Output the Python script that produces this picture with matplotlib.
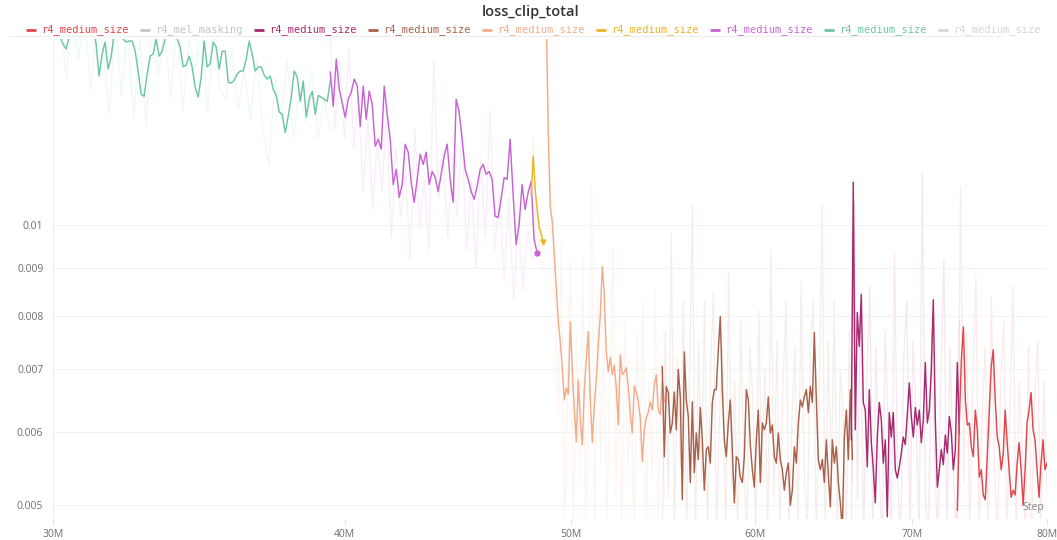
import numpy as np
import matplotlib
matplotlib.use("Agg")
import matplotlib.pyplot as plt
from matplotlib.lines import Line2D
from matplotlib.ticker import NullLocator

# ---------------- data ----------------
title = "loss_clip_total"
legend_labels = ["r4_medium_size", "r4_mel_masking", "r4_medium_size", "r4_medium_size",
                 "r4_medium_size", "r4_medium_size", "r4_medium_size", "r4_medium_size",
                 "r4_medium_size"]
legend_colors = ["#e0474c", "#c4c4c4", "#a82a6e", "#a9614a", "#f3ac8a", "#f0b323",
                 "#c864d2", "#6dc5a8", "#d6d6d6"]

x_ticks = [30e6, 40e6, 50e6, 60e6, 70e6, 80e6]
x_tick_labels = ["30M", "40M", "50M", "60M", "70M", "80M"]
y_ticks = [0.005, 0.006, 0.007, 0.008, 0.009, 0.01]
y_tick_labels = ["0.005", "0.006", "0.007", "0.008", "0.009", "0.01"]

# step span (first, last) of each run
teal_span = (30.21e6, 39.44e6)
violet_span = (39.44e6, 48.37e6)
yellow_span = (48.09e6, 48.66e6)
peach_span = (48.81e6, 54.84e6)
brown_span = (54.73e6, 66.02e6)
magenta_span = (65.95e6, 73.37e6)
red_span = (73.23e6, 80.0e6)

teal_smooth = [0.01594, 0.01567, 0.01548, 0.01594, 0.01634, 0.01659, 0.01667, 0.01659, 0.01646, 0.01659,
               0.01667, 0.01646, 0.01567, 0.01448, 0.01529, 0.01575, 0.01473, 0.01518, 0.01607, 0.01646,
               0.01627, 0.01587, 0.01575, 0.01579, 0.01579, 0.01540, 0.01466, 0.01384, 0.01377, 0.01455,
               0.01521, 0.01529, 0.01587, 0.01521, 0.01540, 0.01587, 0.01627, 0.01646, 0.01634, 0.01587,
               0.01556, 0.01481, 0.01488, 0.01521, 0.01481, 0.01408, 0.01374, 0.01444, 0.01579, 0.01481,
               0.01492, 0.01575, 0.01556, 0.01473, 0.01540, 0.01540, 0.01426, 0.01423, 0.01433, 0.01455,
               0.01466, 0.01466, 0.01510, 0.01579, 0.01529, 0.01466, 0.01481, 0.01481, 0.01451, 0.01437,
               0.01448, 0.01401, 0.01380, 0.01324, 0.01317, 0.01259, 0.01311, 0.01374, 0.01466, 0.01444,
               0.01360, 0.01430, 0.01308, 0.01367, 0.01394, 0.01317, 0.01380, 0.01374, 0.01367, 0.01360,
               0.01430]
teal_raw = [0.0167, 0.0144, 0.0171, 0.0151, 0.0167, 0.0140, 0.0169, 0.0155, 0.0132, 0.0167,
            0.0138, 0.0163, 0.0130, 0.0159, 0.0128, 0.0167, 0.0144, 0.0163, 0.0137, 0.0167,
            0.0133, 0.0159, 0.0147, 0.0167, 0.0132, 0.0159, 0.0140, 0.0137, 0.0155, 0.0133,
            0.0147, 0.0130, 0.0151, 0.0127, 0.0116, 0.0144, 0.0130, 0.0151, 0.0124, 0.0140,
            0.0129, 0.0147, 0.0124, 0.0137, 0.0127]

violet_smooth = [0.01462, 0.01344, 0.01510, 0.01401, 0.01354, 0.01307, 0.01367, 0.01391, 0.01437, 0.01412,
                 0.01278, 0.01412, 0.01301, 0.01395, 0.01350, 0.01217, 0.01238, 0.01208, 0.01412, 0.01317,
                 0.01238, 0.01107, 0.01149, 0.01072, 0.01107, 0.01223, 0.01199, 0.01113, 0.01059, 0.01121,
                 0.01193, 0.01163, 0.01199, 0.01107, 0.01143, 0.01126, 0.01088, 0.01135, 0.01187, 0.01223,
                 0.01121, 0.01059, 0.01367, 0.01324, 0.01238, 0.01149, 0.01121, 0.01088, 0.01067, 0.01102,
                 0.01149, 0.01163, 0.01135, 0.01143, 0.01121, 0.01023, 0.01020, 0.01067, 0.01126, 0.01121,
                 0.01238, 0.01080, 0.00954, 0.01002, 0.01107, 0.01040, 0.01085, 0.01115, 0.00966, 0.00935]
violet_raw = [0.0159, 0.0127, 0.0151, 0.0124, 0.0155, 0.0121, 0.0137, 0.0109, 0.0130, 0.0104,
              0.0124, 0.0109, 0.0133, 0.0097, 0.0121, 0.0102, 0.0115, 0.0092, 0.0127, 0.0099,
              0.0112, 0.0094, 0.0151, 0.0107, 0.0121, 0.0097, 0.0118, 0.0102, 0.0127, 0.0094,
              0.0112, 0.0090, 0.0118, 0.0097, 0.0133, 0.0094, 0.0109, 0.0087, 0.0107, 0.0083,
              0.0102, 0.0085, 0.0099, 0.0092, 0.0094]

yellow_smooth = [0.01080, 0.01187, 0.01093, 0.01040, 0.00995, 0.00980, 0.00959]
yellow_raw = [0.0108, 0.0125, 0.0100, 0.0104, 0.0093, 0.0099, 0.0090]

peach_smooth = [0.01688, 0.01253, 0.01046, 0.01010, 0.00931, 0.00857, 0.00788, 0.00750, 0.00703, 0.00649,
                0.00669, 0.00658, 0.00788, 0.00700, 0.00633, 0.00585, 0.00682, 0.00618, 0.00581, 0.00666,
                0.00717, 0.00769, 0.00649, 0.00584, 0.00641, 0.00682, 0.00744, 0.00802, 0.00903, 0.00843,
                0.00731, 0.00696, 0.00721, 0.00691, 0.00708, 0.00669, 0.00610, 0.00726, 0.00691, 0.00696,
                0.00703, 0.00669, 0.00626, 0.00598, 0.00672, 0.00662, 0.00646, 0.00621, 0.00557, 0.00603,
                0.00621, 0.00630, 0.00646, 0.00633, 0.00674, 0.00691, 0.00633, 0.00626, 0.00679, 0.00646]
peach_raw = [0.0159, 0.0121, 0.0094, 0.0083, 0.0062, 0.0096, 0.0046, 0.0068, 0.0092, 0.0046,
             0.0077, 0.0053, 0.0093, 0.0046, 0.0065, 0.0110, 0.0046, 0.0085, 0.0055, 0.0081,
             0.0046, 0.0068, 0.0095, 0.0051, 0.0074, 0.0046, 0.0079, 0.0055, 0.0067, 0.0046,
             0.0077, 0.0056, 0.0083, 0.0046, 0.0068, 0.0053, 0.0085, 0.0046, 0.0072, 0.0051]

brown_smooth = [0.00705, 0.00564, 0.00671, 0.00661, 0.00598, 0.00613, 0.00662, 0.00603, 0.00700, 0.00654,
                0.00507, 0.00731, 0.00649, 0.00623, 0.00529, 0.00646, 0.00542, 0.00598, 0.00560, 0.00637,
                0.00588, 0.00519, 0.00574, 0.00578, 0.00555, 0.00645, 0.00666, 0.00666, 0.00735, 0.00798,
                0.00666, 0.00588, 0.00564, 0.00613, 0.00649, 0.00574, 0.00503, 0.00564, 0.00560, 0.00536,
                0.00529, 0.00564, 0.00666, 0.00649, 0.00581, 0.00546, 0.00523, 0.00588, 0.00633, 0.00529,
                0.00613, 0.00603, 0.00613, 0.00654, 0.00598, 0.00610, 0.00564, 0.00555, 0.00598, 0.00560,
                0.00546, 0.00519, 0.00542, 0.00555, 0.00500, 0.00519, 0.00578, 0.00555, 0.00613, 0.00649,
                0.00638, 0.00654, 0.00666, 0.00629, 0.00671, 0.00645, 0.00767, 0.00649, 0.00560, 0.00546,
                0.00560, 0.00529, 0.00588, 0.00539, 0.00498, 0.00588, 0.00555, 0.00578, 0.00529, 0.00503,
                0.00470, 0.00592, 0.00633, 0.00560, 0.00666, 0.00560]
brown_raw = [0.0046, 0.0077, 0.0051, 0.0098, 0.0046, 0.0072, 0.0055, 0.0083, 0.0046, 0.0068,
             0.0105, 0.0046, 0.0075, 0.0053, 0.0083, 0.0046, 0.0070, 0.0085, 0.0046, 0.0063,
             0.0074, 0.0046, 0.0089, 0.0052, 0.0068, 0.0046, 0.0079, 0.0056, 0.0046, 0.0074,
             0.0065, 0.0046, 0.0081, 0.0053, 0.0070, 0.0046, 0.0094, 0.0051, 0.0075, 0.0046,
             0.0067, 0.0083, 0.0046, 0.0062, 0.0074, 0.0046, 0.0087, 0.0055, 0.0046, 0.0072,
             0.0083, 0.0046, 0.0065, 0.0105, 0.0046, 0.0075, 0.0053, 0.0083, 0.0046, 0.0070,
             0.0062, 0.0046, 0.0077, 0.0053]

magenta_smooth = [0.00588, 0.01113, 0.00603, 0.00806, 0.00741, 0.00843, 0.00645, 0.00633, 0.00550, 0.00666,
                  0.00584, 0.00548, 0.00503, 0.00592, 0.00645, 0.00618, 0.00555, 0.00588, 0.00486, 0.00629,
                  0.00592, 0.00629, 0.00546, 0.00535, 0.00550, 0.00569, 0.00592, 0.00581, 0.00626, 0.00677,
                  0.00623, 0.00592, 0.00637, 0.00610, 0.00633, 0.00584, 0.00618, 0.00712, 0.00613, 0.00633,
                  0.00700, 0.00832, 0.00618, 0.00523, 0.00546, 0.00574, 0.00553, 0.00595, 0.00569, 0.00623,
                  0.00598, 0.00546, 0.00574, 0.00712, 0.00598]
magenta_raw = [0.0046, 0.0106, 0.0051, 0.0082, 0.0046, 0.0068, 0.0086, 0.0046, 0.0074, 0.0055,
               0.0046, 0.0077, 0.0060, 0.0046, 0.0093, 0.0053, 0.0046, 0.0072, 0.0083, 0.0046,
               0.0075, 0.0062, 0.0046, 0.0114, 0.0051, 0.0046, 0.0077, 0.0056, 0.0046, 0.0068,
               0.0092, 0.0046, 0.0074, 0.0055, 0.0046, 0.0079]

red_smooth = [0.00494, 0.00618, 0.00717, 0.00778, 0.00649, 0.00610, 0.00613, 0.00578, 0.00564, 0.00633,
              0.00603, 0.00536, 0.00546, 0.00513, 0.00507, 0.00564, 0.00633, 0.00705, 0.00735, 0.00649,
              0.00592, 0.00578, 0.00546, 0.00567, 0.00633, 0.00584, 0.00546, 0.00510, 0.00519, 0.00513,
              0.00555, 0.00584, 0.00546, 0.00500, 0.00546, 0.00613, 0.00633, 0.00661, 0.00603, 0.00588,
              0.00546, 0.00510, 0.00555, 0.00588, 0.00546, 0.00555]
red_raw = [0.0046, 0.0110, 0.0053, 0.0077, 0.0046, 0.0068, 0.0088, 0.0046, 0.0062, 0.0074,
           0.0046, 0.0084, 0.0055, 0.0046, 0.0068, 0.0079, 0.0046, 0.0063, 0.0086, 0.0046,
           0.0068, 0.0057, 0.0046, 0.0074, 0.0046, 0.0065, 0.0075, 0.0046, 0.0068, 0.0051]

runs = [
    (teal_span, teal_smooth, teal_raw, legend_colors[7], None),
    (violet_span, violet_smooth, violet_raw, legend_colors[6], "o"),
    (yellow_span, yellow_smooth, yellow_raw, legend_colors[5], "v"),
    (peach_span, peach_smooth, peach_raw, legend_colors[4], None),
    (brown_span, brown_smooth, brown_raw, legend_colors[3], None),
    (magenta_span, magenta_smooth, magenta_raw, legend_colors[2], None),
    (red_span, red_smooth, red_raw, legend_colors[0], None),
]

# ---------------- figure ----------------
W, H = 1057, 540
fig = plt.figure(figsize=(W / 100, H / 100), dpi=100)
fig.patch.set_facecolor("white")
ax = fig.add_axes([53 / W, 1 - 519 / H, 994 / W, (519 - 39) / H])
ax.set_xscale("log")
ax.set_yscale("log")

for span, sm, raw, col, mk in runs:
    xs = np.geomspace(span[0], span[1], len(raw))
    ax.plot(xs, raw, color=col, lw=0.9, alpha=0.11, zorder=1)

for span, sm, raw, col, mk in runs:
    xs = np.geomspace(span[0], span[1], len(sm))
    ax.plot(xs, sm, color=col, lw=1.05, zorder=3)
    if mk is not None:
        ax.plot(xs[-1:], sm[-1:], marker=mk, color=col, ms=3.5, lw=0, zorder=4)

ax.set_xlim(30e6, 80e6)
ax.set_ylim(0.004833, 0.01587)

ax.xaxis.set_minor_locator(NullLocator())
ax.yaxis.set_minor_locator(NullLocator())
ax.set_xticks(x_ticks)
ax.set_xticklabels(x_tick_labels)
ax.set_yticks(y_ticks)
ax.set_yticklabels(y_tick_labels)

for lab in ax.get_xticklabels() + ax.get_yticklabels():
    lab.set_fontfamily("Open Sans")
    lab.set_fontsize(7.5)
    lab.set_color("#6f6f6f")
ax.tick_params(axis="x", length=4, width=0.8, color="#e6e6e6", pad=3)
ax.tick_params(axis="y", length=0, pad=7)

ax.grid(axis="y", color="#f2f2f2", lw=0.8, zorder=0)
ax.grid(axis="x", visible=False)
for s in ["top", "right", "bottom"]:
    ax.spines[s].set_visible(False)
ax.spines["left"].set_color("#f0f0f0")
ax.spines["left"].set_linewidth(0.8)

ax.text(0.997, 0.012, "Step", transform=ax.transAxes, ha="right", va="bottom",
        fontsize=7.5, color="#888888", family="Open Sans", zorder=5)

fig.text(531 / W, 1 - 12 / H, title, ha="center", va="center", fontsize=10.5,
         color="#333333", family="Open Sans", weight="semibold")

fig.add_artist(Line2D([10 / W, 1000 / W], [1 - 36 / H, 1 - 36 / H],
                      transform=fig.transFigure, color="#eeeeee", lw=0.8))
for i, (lab, col) in enumerate(zip(legend_labels, legend_colors)):
    x0 = 26 + 114 * i
    yy = 1 - 30 / H
    fig.add_artist(Line2D([x0 / W, (x0 + 10) / W], [yy, yy], transform=fig.transFigure,
                          color=col, lw=2, solid_capstyle="butt"))
    fig.text((x0 + 15) / W, yy, lab, ha="left", va="center", fontsize=7.5,
             color=col, family="DejaVu Sans Mono")

fig.savefig("out.png", dpi=100, facecolor="white")
